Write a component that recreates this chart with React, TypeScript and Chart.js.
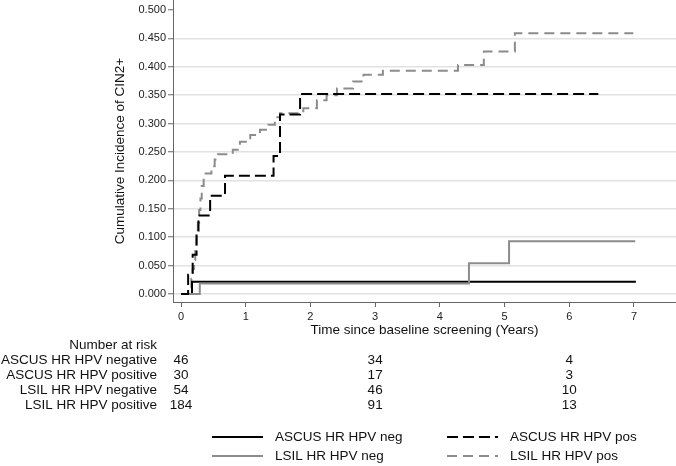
import React, { useEffect, useRef } from 'react';
import { Chart, registerables } from 'chart.js';

Chart.register(...registerables);

// ---- data ----
const ascusNegT = [0, 0.17, 7.03];
const ascusNegV = [0, 0.0217, 0.0217];

const ascusPosT = [0, 0.11, 0.18, 0.24, 0.27, 0.45, 0.68, 1.43, 1.53, 1.84, 6.45];
const ascusPosV = [0, 0.034, 0.069, 0.103, 0.138, 0.173, 0.208, 0.243, 0.316, 0.352, 0.352];

const lsilNegT = [0, 0.29, 4.45, 5.07, 7.02];
const lsilNegV = [0, 0.0185, 0.054, 0.093, 0.093];

const lsilPosT = [0, 0.14, 0.16, 0.18, 0.2, 0.22, 0.24, 0.26, 0.28, 0.3, 0.32, 0.35, 0.47, 0.52, 0.57, 0.8, 0.91, 1.07, 1.22, 1.35, 1.45, 1.53, 1.89, 2.1, 2.25, 2.41, 2.66, 2.82, 3.12, 4.28, 4.68, 5.16, 6.99];
const lsilPosV = [0, 0.011, 0.027, 0.044, 0.06, 0.082, 0.104, 0.126, 0.148, 0.168, 0.19, 0.212, 0.225, 0.237, 0.246, 0.254, 0.268, 0.28, 0.289, 0.298, 0.311, 0.318, 0.327, 0.341, 0.35, 0.362, 0.374, 0.386, 0.393, 0.403, 0.427, 0.459, 0.459];

const yTickValues = [0, 0.05, 0.1, 0.15, 0.2, 0.25, 0.3, 0.35, 0.4, 0.45, 0.5];
const xTickValues = [0, 1, 2, 3, 4, 5, 6, 7];

const riskTimes = [0, 3, 6];
const riskGroups = ['ASCUS HR HPV negative', 'ASCUS HR HPV positive', 'LSIL HR HPV negative', 'LSIL HR HPV positive'];
const riskAscusNeg = [46, 34, 4];
const riskAscusPos = [30, 17, 3];
const riskLsilNeg = [54, 46, 10];
const riskLsilPos = [184, 91, 13];

const seriesLabels = ['ASCUS HR HPV neg', 'ASCUS HR HPV pos', 'LSIL HR HPV neg', 'LSIL HR HPV pos'];
const yTitle = 'Cumulative Incidence of CIN2+';
const xTitle = 'Time since baseline screening (Years)';
const riskTitle = 'Number at risk';

const FONT = "'Liberation Sans', Arial, sans-serif";
const BLACK = '#000000';
const GRAY = '#8c8c8c';

const toPts = (t: number[], v: number[]) => t.map((x, i) => ({ x, y: v[i] }));

const overlayPlugin = {
  id: 'overlay',
  afterDraw(chart: any) {
    const { ctx, chartArea } = chart;
    const xs = chart.scales.x;
    ctx.save();
    ctx.fillStyle = '#111';
    ctx.font = `13.5px ${FONT}`;
    ctx.textBaseline = 'middle';

    // y title
    ctx.save();
    ctx.translate(120, (chartArea.top + chartArea.bottom) / 2);
    ctx.rotate(-Math.PI / 2);
    ctx.textAlign = 'center';
    ctx.fillText(yTitle, 0, 0);
    ctx.restore();

    // x title
    ctx.textAlign = 'center';
    ctx.fillText(xTitle, (chartArea.left + chartArea.right) / 2, 330);

    // number at risk table
    const rowY0 = 345;
    const rowH = 15;
    ctx.textAlign = 'right';
    ctx.fillText(riskTitle, 157, rowY0);
    const rows = [riskAscusNeg, riskAscusPos, riskLsilNeg, riskLsilPos];
    rows.forEach((vals, r) => {
      const y = rowY0 + (r + 1) * rowH;
      ctx.textAlign = 'right';
      ctx.fillText(riskGroups[r], 157, y);
      ctx.textAlign = 'center';
      vals.forEach((n, j) => {
        ctx.fillText(String(n), xs.getPixelForValue(riskTimes[j]), y);
      });
    });

    // legend
    const order = [0, 1, 2, 3];
    const cols = [212, 447];
    const legRows = [437, 456];
    order.forEach((i, k) => {
      const ds = chart.data.datasets[i];
      const cx = cols[k % 2];
      const cy = legRows[Math.floor(k / 2)];
      ctx.save();
      ctx.strokeStyle = ds.borderColor;
      ctx.lineWidth = 2;
      ctx.setLineDash(ds.borderDash || []);
      ctx.beginPath();
      ctx.moveTo(cx, cy);
      ctx.lineTo(cx + 51, cy);
      ctx.stroke();
      ctx.restore();
      ctx.textAlign = 'left';
      ctx.fillText(ds.label, cx + 63, cy);
    });
    ctx.restore();
  },
};

export default function App() {
  const ref = useRef<HTMLCanvasElement | null>(null);
  useEffect(() => {
    if (!ref.current) return;
    const chart = new Chart(ref.current, {
      type: 'line',
      data: {
        datasets: [
          { label: seriesLabels[0], data: toPts(ascusNegT, ascusNegV), borderColor: BLACK, borderWidth: 2, borderDash: [], stepped: true, pointRadius: 0, fill: false, order: 2 },
          { label: seriesLabels[1], data: toPts(ascusPosT, ascusPosV), borderColor: BLACK, borderWidth: 2, borderDash: [11, 5], stepped: true, pointRadius: 0, fill: false, order: 0 },
          { label: seriesLabels[2], data: toPts(lsilNegT, lsilNegV), borderColor: GRAY, borderWidth: 2, borderDash: [], stepped: true, pointRadius: 0, fill: false, order: 1 },
          { label: seriesLabels[3], data: toPts(lsilPosT, lsilPosV), borderColor: GRAY, borderWidth: 2, borderDash: [10, 6], stepped: true, pointRadius: 0, fill: false, order: 3 },
        ],
      },
      options: {
        animation: false,
        responsive: false,
        maintainAspectRatio: false,
        devicePixelRatio: 1,
        layout: { padding: 0 },
        plugins: { legend: { display: false }, tooltip: { enabled: false }, title: { display: false } },
        scales: {
          x: {
            type: 'linear',
            min: -0.124,
            max: 7.65,
            afterBuildTicks: (s: any) => { s.ticks = xTickValues.map((v) => ({ value: v })); },
            afterFit: (s: any) => { s.height = 164; s.paddingLeft = 0; s.paddingRight = 0; },
            ticks: { autoSkip: false, maxRotation: 0, padding: 3, color: '#222', font: { family: FONT, size: 11 }, callback: (v: any) => String(v) },
            grid: { drawOnChartArea: false, drawTicks: true, tickLength: 5, tickColor: '#666', tickWidth: 1 },
            border: { display: true, color: '#666', width: 1 },
          },
          y: {
            type: 'linear',
            min: -0.0141,
            max: 0.5176,
            afterBuildTicks: (s: any) => { s.ticks = yTickValues.map((v) => ({ value: v })); },
            afterFit: (s: any) => { s.width = 173; s.paddingTop = 0; s.paddingBottom = 0; },
            ticks: { autoSkip: false, padding: 2, color: '#222', font: { family: FONT, size: 11 }, callback: (v: any) => Number(v).toFixed(3) },
            grid: {
              drawOnChartArea: true,
              drawTicks: true,
              tickLength: 5,
              tickColor: '#666',
              tickWidth: 1,
              lineWidth: 1.5,
              color: (c: any) => (c.tick && c.tick.value >= 0.5 ? 'rgba(0,0,0,0)' : '#e2e2e2'),
            },
            border: { display: true, color: '#666', width: 1 },
          },
        },
      },
      plugins: [overlayPlugin],
    });
    return () => chart.destroy();
  }, []);
  return (
    <div style={{ position: 'absolute', left: 0, top: 0, width: 676, height: 466, background: '#fff' }}>
      <canvas ref={ref} width={676} height={466} style={{ display: 'block', width: 676, height: 466 }} />
    </div>
  );
}
